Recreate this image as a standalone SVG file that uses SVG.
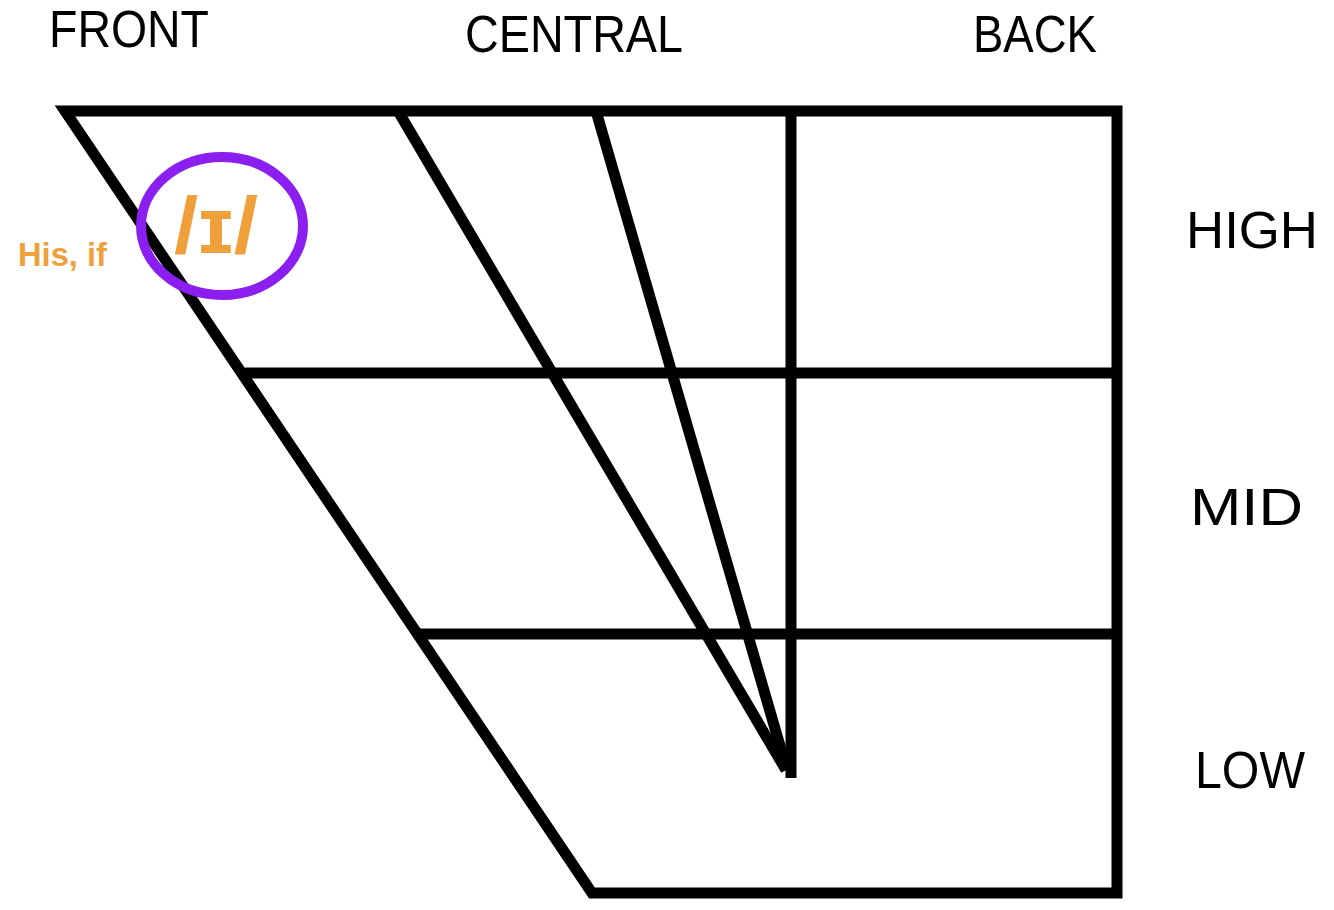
<svg xmlns="http://www.w3.org/2000/svg" width="1334" height="910" viewBox="0 0 1334 910">
<style>
.ln{stroke:#000;stroke-width:11;fill:none;stroke-linecap:butt;stroke-linejoin:miter}
.lbl{font-family:"Liberation Sans",Arial,sans-serif;font-size:52px;fill:#000}
.or{font-family:"Liberation Sans",Arial,sans-serif;font-weight:bold;fill:#F0A03A}
</style>
<rect width="1334" height="910" fill="#fff"/>
<g id="labels">
<text class="lbl" x="49" y="47" textLength="160" lengthAdjust="spacingAndGlyphs">FRONT</text>
<text class="lbl" x="465" y="52" textLength="218" lengthAdjust="spacingAndGlyphs">CENTRAL</text>
<text class="lbl" x="973" y="52" textLength="124" lengthAdjust="spacingAndGlyphs">BACK</text>
<text class="lbl" x="1186" y="248" font-size="61" textLength="132" lengthAdjust="spacingAndGlyphs">HIGH</text>
<text class="lbl" x="1190" y="525" font-size="59" textLength="113" lengthAdjust="spacingAndGlyphs">MID</text>
<text class="lbl" x="1195" y="788" font-size="56" textLength="110" lengthAdjust="spacingAndGlyphs">LOW</text>
</g>
<g id="chart" class="ln">
<path d="M65,111 L1117,111 L1117,893 L592,893 Z"/>
<line x1="245" y1="373" x2="1117" y2="373"/>
<line x1="420" y1="634" x2="1117" y2="634"/>
<line x1="398" y1="111" x2="786" y2="770"/>
<line x1="596" y1="111" x2="787" y2="770"/>
<line x1="791" y1="111" x2="791" y2="778"/>
</g>
<g id="vowel">
<ellipse cx="222" cy="226" rx="81" ry="69" fill="none" stroke="#8A1FEF" stroke-width="10"/>
<text class="or" x="174" y="253" font-size="80" textLength="84" lengthAdjust="spacingAndGlyphs">/ɪ/</text>
<text class="or" x="18" y="266" font-size="33" textLength="89" lengthAdjust="spacingAndGlyphs">His, if</text>
</g>
</svg>
